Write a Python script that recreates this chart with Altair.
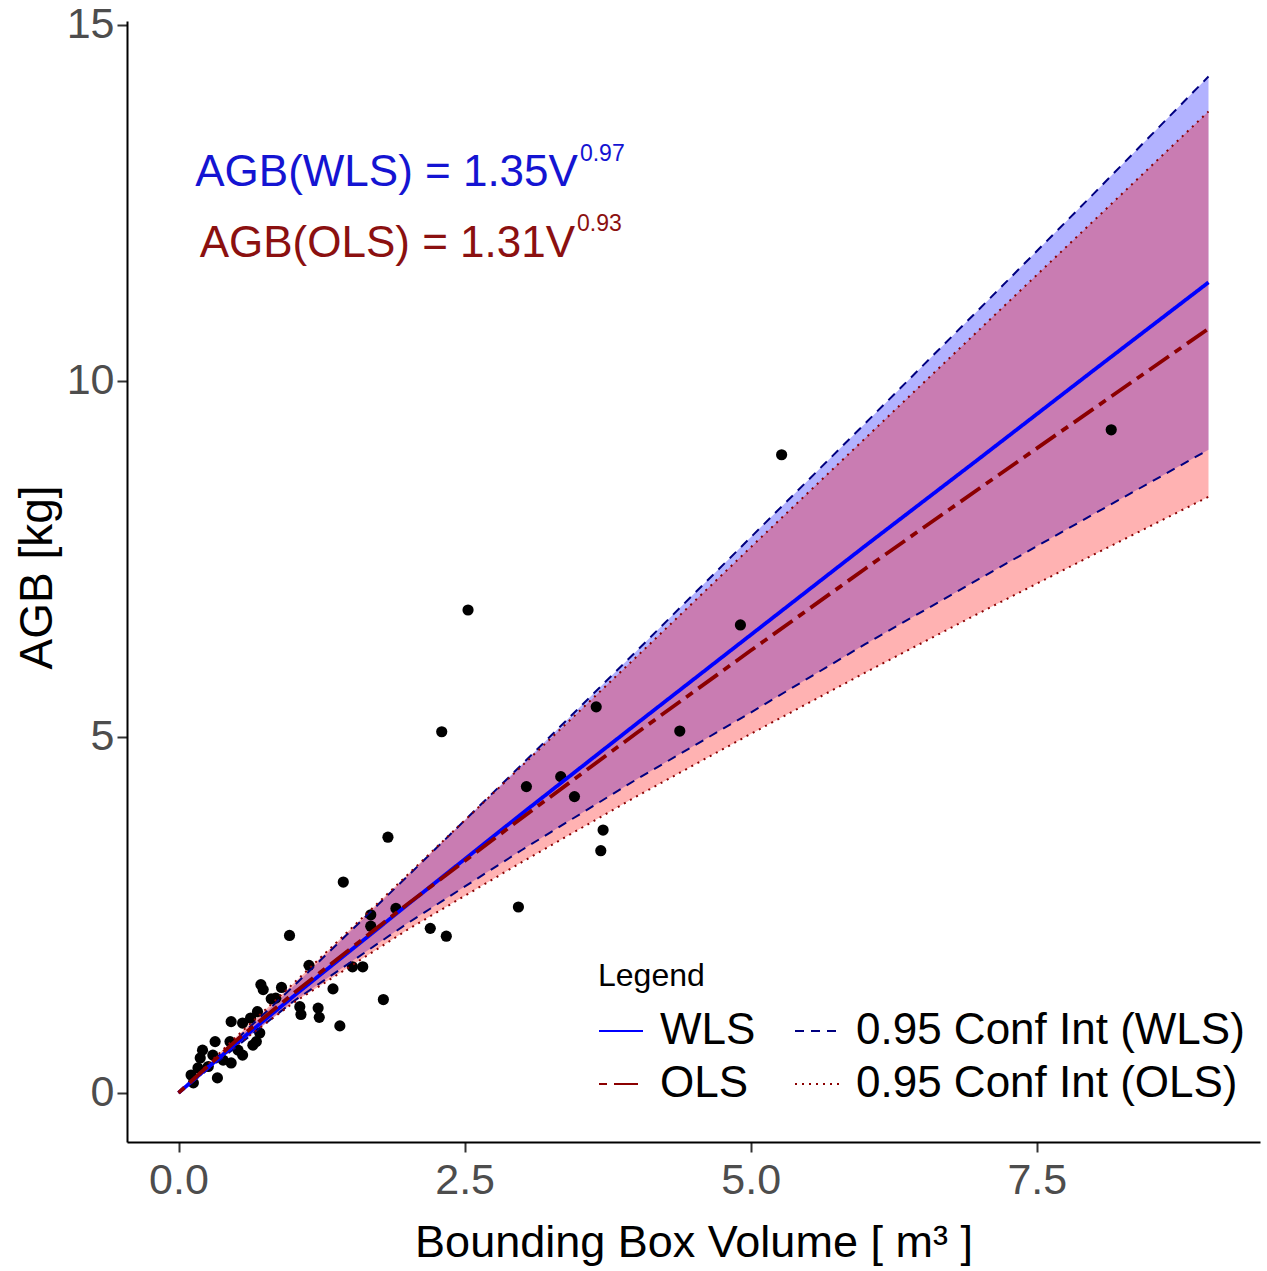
import altair as alt
import pandas as pd

# ---------------- data ----------------
vol_pts = [8.15, 5.27, 4.91, 2.53, 2.30, 4.38, 3.65, 3.04, 3.34, 3.46, 3.71, 3.69,
           1.83, 1.44, 2.97, 1.90, 1.68, 1.68, 2.20, 2.34, 0.97, 1.52, 1.61, 1.14,
           1.35, 1.79, 1.41, 1.22, 1.23, 1.06, 1.07, 0.72, 0.74, 0.90, 0.81, 0.85,
           0.69, 0.63, 0.56, 0.71, 0.46, 0.68, 0.32, 0.21, 0.19, 0.45, 0.52, 0.46,
           0.26, 0.34, 0.11, 0.13, 0.39, 0.56, 0.30, 0.17, 0.65]
agb_pts = [9.31, 8.96, 6.57, 6.78, 5.07, 5.08, 5.42, 4.30, 4.44, 4.16, 3.69, 3.40,
           3.59, 2.96, 2.61, 2.59, 2.50, 2.34, 2.31, 2.20, 2.21, 1.77, 1.77, 1.79,
           1.46, 1.31, 0.94, 1.19, 1.06, 1.21, 1.10, 1.52, 1.45, 1.48, 1.32, 1.33,
           1.14, 1.05, 0.98, 0.84, 1.00, 0.72, 0.72, 0.60, 0.49, 0.72, 0.60, 0.42,
           0.37, 0.21, 0.25, 0.14, 0.46, 0.53, 0.53, 0.35, 0.67]

v_grid = [0, 0.5, 1, 2, 3, 4, 5, 6, 7, 8, 9]
wls_fit = [0, 0.69, 1.35, 2.64, 3.92, 5.18, 6.43, 7.68, 8.91, 10.15, 11.38]
wls_lo = [0, 0.64, 1.28, 2.38, 3.41, 4.40, 5.34, 6.30, 7.22, 8.13, 9.03]
wls_hi = [0, 0.74, 1.49, 3.04, 4.61, 6.20, 7.80, 9.40, 11.01, 12.63, 14.27]
ols_fit = [0, 0.73, 1.39, 2.65, 3.86, 5.05, 6.21, 7.36, 8.49, 9.61, 10.73]
ols_lo = [0, 0.66, 1.26, 2.29, 3.24, 4.16, 5.04, 5.90, 6.74, 7.56, 8.37]
ols_hi = [0, 0.78, 1.53, 3.06, 4.59, 6.12, 7.66, 9.19, 10.72, 12.25, 13.78]

# legend fills column by column: WLS, OLS | CI(WLS), CI(OLS)
series_order = ["WLS", "OLS", "0.95 Conf Int (WLS)", "0.95 Conf Int (OLS)"]
series_colors = ["#0000FF", "#8B0000", "#000080", "#8B0000"]
series_dash = [[1, 0], [8, 7, 24, 7], [9, 7], [2, 5]]

x_ticks = [0, 2.5, 5, 7.5]
y_ticks = [0, 5, 10, 15]

eq_labels = ["AGB(WLS) = 1.35V", "AGB(OLS) = 1.31V"]
eq_exps = ["0.97", "0.93"]
eq_x = [3.49, 3.465]
eq_y = [12.74, 11.74]
exp_y = [13.08, 12.10]

# ---------------- tables ----------------
pts = pd.DataFrame({"V": vol_pts, "AGB": agb_pts})
band = pd.DataFrame({"V": v_grid, "wls_lo": wls_lo, "wls_hi": wls_hi,
                     "ols_lo": ols_lo, "ols_hi": ols_hi})

fit_rows = []
for name, ys in [("WLS", wls_fit), ("OLS", ols_fit)]:
    for v, y in zip(v_grid, ys):
        fit_rows.append({"V": v, "AGB": y, "series": name, "curve": name})
fits = pd.DataFrame(fit_rows)

ci_rows = []
for name, tag, ys in [("0.95 Conf Int (WLS)", "wl", wls_lo), ("0.95 Conf Int (WLS)", "wh", wls_hi),
                      ("0.95 Conf Int (OLS)", "ol", ols_lo), ("0.95 Conf Int (OLS)", "oh", ols_hi)]:
    for v, y in zip(v_grid, ys):
        ci_rows.append({"V": v, "AGB": y, "series": name, "curve": tag})
cis = pd.DataFrame(ci_rows)

FONT = "Liberation Sans"

xs = alt.Scale(domain=[-0.45, 9.45], nice=False, zero=False)
ys_ = alt.Scale(domain=[-0.69, 15.05], nice=False, zero=False)

x_axis = alt.Axis(values=x_ticks, format=".1f", grid=False,
                  labelFontSize=43, labelColor="#4D4D4D", labelFont=FONT, labelPadding=7,
                  tickSize=10, tickWidth=2, tickColor="#333333",
                  domainColor="black", domainWidth=2,
                  title="Bounding Box Volume [ m³ ]", titleFont=FONT, titleFontSize=45,
                  titleFontWeight="normal", titleColor="black",
                  titleBaseline="alphabetic", titleY=114)
y_axis = alt.Axis(values=y_ticks, format="d", grid=False,
                  labelFontSize=43, labelColor="#4D4D4D", labelFont=FONT, labelPadding=3,
                  tickSize=10, tickWidth=2, tickColor="#333333",
                  domainColor="black", domainWidth=2,
                  title="AGB [kg]", titleFont=FONT, titleFontSize=46,
                  titleFontWeight="normal", titleColor="black",
                  titleBaseline="alphabetic", titleX=-76, titleY=556, titleAngle=270)

X = alt.X("V:Q", scale=xs, axis=x_axis, title="Bounding Box Volume [ m³ ]")
Y = alt.Y("AGB:Q", scale=ys_, axis=y_axis, title="AGB [kg]")

legend = alt.Legend(title="Legend", orient="none", legendX=471, legendY=940, columns=2,
                    symbolType="stroke", symbolSize=1936, symbolStrokeWidth=2,
                    labelFontSize=44, labelFont=FONT, labelColor="black", labelLimit=1000,
                    labelOffset=16, titleFontSize=32, titleFont=FONT, titleColor="black",
                    titleFontWeight="normal", titlePadding=15, columnPadding=35, rowPadding=8,
                    padding=0)

color_enc = alt.Color("series:N", scale=alt.Scale(domain=series_order, range=series_colors),
                      legend=legend)
dash_enc = alt.StrokeDash("series:N", scale=alt.Scale(domain=series_order, range=series_dash),
                          legend=legend)

band_wls = alt.Chart(band).mark_area(color="#0000FF", opacity=0.3).encode(
    x=X, y=alt.Y("wls_lo:Q", scale=ys_, axis=y_axis, title="AGB [kg]"), y2="wls_hi:Q")
band_ols = alt.Chart(band).mark_area(color="#FF0000", opacity=0.3).encode(
    x=X, y=alt.Y("ols_lo:Q", scale=ys_, axis=y_axis, title="AGB [kg]"), y2="ols_hi:Q")

points = alt.Chart(pts).mark_circle(size=125, color="black", opacity=1).encode(x=X, y=Y)

ci_lines = alt.Chart(cis).mark_line(strokeWidth=2).encode(
    x=X, y=Y, color=color_enc, strokeDash=dash_enc, detail="curve:N", order="V:Q")
fit_lines = alt.Chart(fits).mark_line(strokeWidth=3.8).encode(
    x=X, y=Y, color=color_enc, strokeDash=dash_enc, detail="curve:N", order="V:Q")

eq_colors = ["#1414D2", "#8B1010"]
text_layers = []
for i in range(2):
    d = pd.DataFrame({"V": [eq_x[i]], "AGB": [eq_y[i]], "t": [eq_labels[i]]})
    text_layers.append(alt.Chart(d).mark_text(align="right", baseline="alphabetic",
                                              fontSize=44, font=FONT, color=eq_colors[i]).encode(
        x=X, y=Y, text="t:N"))
    e = pd.DataFrame({"V": [eq_x[i]], "AGB": [exp_y[i]], "t": [eq_exps[i]]})
    text_layers.append(alt.Chart(e).mark_text(align="left", baseline="alphabetic", dx=2,
                                              fontSize=23, font=FONT, color=eq_colors[i]).encode(
        x=X, y=Y, text="t:N"))

chart = alt.layer(band_wls, band_ols, points, ci_lines, fit_lines, *text_layers).properties(
    width=1133, height=1121,
    autosize=alt.AutoSizeParams(type="none"),
    padding={"left": 127, "top": 21, "right": 7, "bottom": 129},
    background="white",
).configure_view(stroke=None)

chart.save("out.html", embed_options={"renderer": "svg", "actions": False})
